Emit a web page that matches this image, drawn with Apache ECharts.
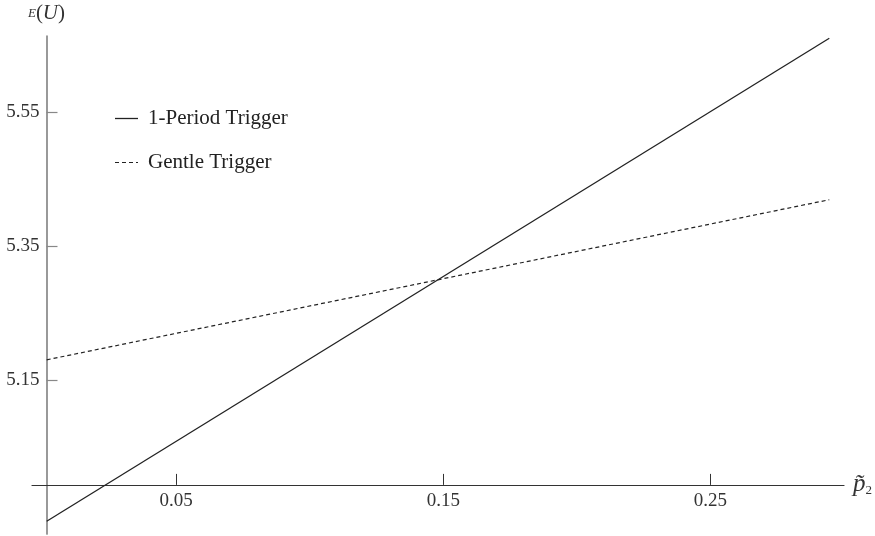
<!DOCTYPE html>
<html>
<head>
<meta charset="utf-8">
<script src="https://cdn.jsdelivr.net/npm/echarts@6/dist/echarts.min.js"></script>
<style>
html,body{margin:0;padding:0;background:#fff;}
#chart{width:875px;height:536px;}
</style>
</head>
<body>
<div id="chart"></div>
<script>
// ---- data ----
const seriesNames = ['1-Period Trigger', 'Gentle Trigger'];
const onePeriodX = [0.0015, 0.2945];
const onePeriodY = [4.939, 5.660];
const gentleX = [0.0015, 0.2945];
const gentleY = [5.180, 5.419];
const xTicks = [0.05, 0.15, 0.25];
const yTicks = [5.15, 5.35, 5.55];
const xRange = [-0.004, 0.3];
const yRange = [4.92, 5.6634];
const yAxisAtX = 0.0015;   // where the vertical axis stands
const xAxisAtY = 4.997;    // where the horizontal axis stands

const pair = (xs, ys) => xs.map((x, i) => [x, ys[i]]);
const serif = '"Liberation Serif", "DejaVu Serif", serif';
const solidIcon = 'path://M0,0H23V1.3H0Z';
const dashIcon = 'path://M0,0H4V1.2H0Z M7,0H11V1.2H7Z M14,0H18V1.2H14Z M21,0H23V1.2H21Z';

const chart = echarts.init(document.getElementById('chart'));
const option = {
  animation: false,
  backgroundColor: '#fff',
  grid: {left: 32, right: 28, top: 36, bottom: 2, containLabel: false},
  legend: {
    orient: 'vertical', left: 110, top: 103, itemGap: 23,
    itemWidth: 23, itemHeight: 2,
    textStyle: {fontFamily: serif, fontSize: 21, color: '#222', padding: [0, 0, 0, 5]},
    data: [
      {name: seriesNames[0], icon: solidIcon, itemStyle: {color: '#222'}},
      {name: seriesNames[1], icon: dashIcon, itemStyle: {color: '#222'}}
    ]
  },
  xAxis: {
    type: 'value', min: xRange[0], max: xRange[1],
    axisLine: {onZero: false, lineStyle: {color: '#333', width: 1.2}},
    axisTick: {inside: true, length: 11, customValues: xTicks, lineStyle: {color: '#333'}},
    axisLabel: {customValues: xTicks, margin: 7, fontFamily: serif, fontSize: 19, color: '#333',
      formatter: v => v.toFixed(2)},
    splitLine: {show: false},
    name: '{p|p̃}{s|2}', nameLocation: 'end', nameGap: 9,
    nameTextStyle: {rich: {
      p: {fontFamily: serif, fontStyle: 'italic', fontSize: 25, color: '#333'},
      s: {fontFamily: serif, fontSize: 13, color: '#333', verticalAlign: 'bottom', padding: [10,0,0,0]}
    }}
  },
  yAxis: {
    type: 'value', min: yRange[0], max: yRange[1],
    axisLine: {onZero: false, lineStyle: {color: '#888', width: 1.7}},
    axisTick: {inside: true, length: 11, customValues: yTicks, lineStyle: {color: '#888', width: 1.2}},
    axisLabel: {customValues: yTicks, margin: 7, fontFamily: serif, fontSize: 19, color: '#333',
      formatter: v => v.toFixed(2)},
    splitLine: {show: false},
    name: '{e|E}{p|(}{u|U}{p|)}', nameLocation: 'end', nameGap: 12,
    nameTextStyle: {rich: {
      e: {fontFamily: serif, fontStyle: 'italic', fontSize: 13, color: '#333'},
      p: {fontFamily: serif, fontSize: 21, color: '#333'},
      u: {fontFamily: serif, fontStyle: 'italic', fontSize: 21, color: '#333'}
    }}
  },
  series: [
    {name: seriesNames[0], type: 'line', symbol: 'none', data: pair(onePeriodX, onePeriodY),
      lineStyle: {color: '#222', width: 1.3, type: 'solid'}, itemStyle: {color: '#222'}},
    {name: seriesNames[1], type: 'line', symbol: 'none', data: pair(gentleX, gentleY),
      lineStyle: {color: '#222', width: 1.2, type: [4, 3]}, itemStyle: {color: '#222'}}
  ]
};
chart.setOption(option);

// place axes where they cross in the reference
const leftPx = chart.convertToPixel({xAxisIndex: 0}, xRange[0]);
const yAxisPx = chart.convertToPixel({xAxisIndex: 0}, yAxisAtX);
const bottomPx = chart.convertToPixel({yAxisIndex: 0}, yRange[0]);
const xAxisPx = chart.convertToPixel({yAxisIndex: 0}, xAxisAtY);
chart.setOption({
  xAxis: {offset: xAxisPx - bottomPx},
  yAxis: {offset: leftPx - yAxisPx}
});
</script>
</body>
</html>
